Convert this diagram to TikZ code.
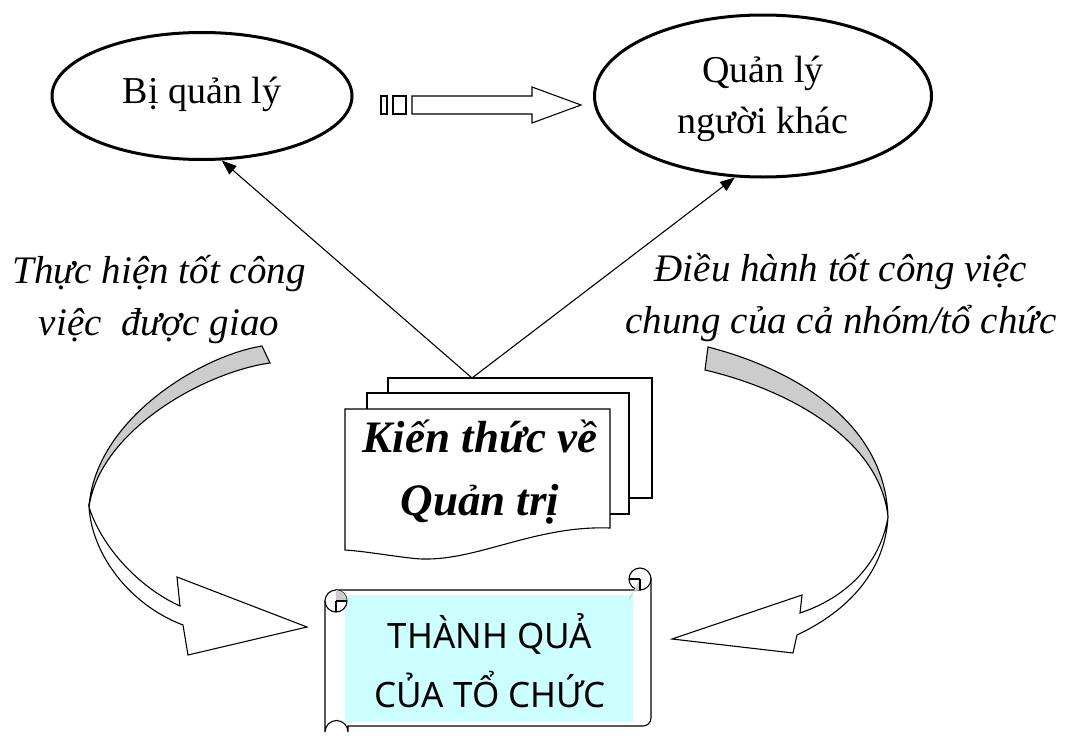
\documentclass[tikz,border=0pt]{standalone}
\usepackage{fontspec}
\setmainfont{Liberation Serif}
\newfontfamily\scrollfont{Noto Sans}
\usetikzlibrary{shapes.geometric,arrows.meta}
\definecolor{scrollcyan}{RGB}{204,255,255}
\begin{document}
\begin{tikzpicture}[x=1pt,y=-1pt,line join=miter]
\useasboundingbox (0,0) rectangle (1077,744);
\tikzset{
  oval/.style={ellipse,draw,line width=3pt,align=center,inner sep=0pt,font=\fontsize{38}{51}\selectfont},
  conn/.style={line width=1.1pt,-{Triangle[length=15pt,width=11pt]}},
  outl/.style={draw,line width=1.1pt},
  lbl/.style={align=center,inner sep=0pt,anchor=base,font=\fontsize{39}{52}\selectfont\itshape},
  doctext/.style={align=center,inner sep=0pt,anchor=base,font=\fontsize{45}{63}\selectfont\bfseries\itshape},
  scrolltext/.style={align=center,inner sep=0pt,anchor=base,font=\fontsize{35}{59}\selectfont\scrollfont},
  band/.style={draw,line width=1.1pt,fill=gray!40},
  bandwhite/.style={draw,line width=1.1pt,fill=white},
}
% ellipses
\node[oval,minimum width=300pt,minimum height=127pt,text depth=12pt] (e1) at (202,96) {Bị quản lý};
\node[oval,minimum width=337pt,minimum height=162pt,text depth=3pt] (e2) at (763,96) {Quản lý\\người khác};
% block arrow between ellipses
\draw[outl] (381,96) rectangle (387,114);
\draw[outl] (393,96) rectangle (406,114);
\draw[outl] (412,96) -- (532,96) -- (532,87) -- (581,105) -- (532,123) -- (532,114) -- (412,114) -- cycle;
% connectors from documents to ellipses
\coordinate (apex) at (472,378);
\draw[conn] (apex) -- (e1.-73);
\draw[conn] (apex) -- (e2.-109);
% documents
\draw[outl,fill=white] (388,378) rectangle (652,498);
\draw[outl,fill=white] (367,393) rectangle (629,514);
\draw[outl,fill=white] (345,409) -- (610,409) -- (610,528)
   .. controls (530,525) and (470,566) .. (410,558)
   .. controls (385,555) and (362,551) .. (345,550) -- cycle;
\node[doctext] (kt) at (480,515) {Kiến thức về\\Quản trị};
% labels
\node[lbl] (l1) at (159,335) {Thực hiện tốt công\\việc\ \ được giao};
\node[lbl] (l2) at (841,333) {Điều hành tốt công việc\\chung của cả nhóm/tổ chức};
% left curved arrow
\path[band] (262,346) .. controls (200,356) and (95,420) .. (89,507)
   .. controls (100,430) and (205,372) .. (270,363) -- cycle;
\path[bandwhite] (89,507) .. controls (102,548) and (140,588) .. (180,606)
   -- (177,577) -- (307,627) -- (188,655) -- (183,625)
   .. controls (130,605) and (92,555) .. (89,507) -- cycle;
% right curved arrow
\path[band] (708,347) .. controls (790,368) and (885,420) .. (888,517)
   .. controls (880,440) and (790,390) .. (705,370) -- cycle;
\path[bandwhite] (888,517) .. controls (880,565) and (845,598) .. (800,613)
   -- (802,595) -- (672,639) -- (793,653) -- (797,635)
   .. controls (850,610) and (885,570) .. (888,517) -- cycle;
% scroll
\draw[outl,fill=white] (325,601) -- (325,732) arc[start angle=180,end angle=360,radius=11.5] -- (348,726)
   -- (643,726) arc[start angle=90,end angle=0,radius=8] -- (651,579) -- (640,590) -- (336,590) -- cycle;
\fill[scrollcyan] (345,595) rectangle (633,722);
\draw[outl,fill=white] (640,579) circle[radius=11];
\fill[gray!40] (640,579) -- (640,590) arc[start angle=270,end angle=180,radius=11] -- cycle;
\draw[outl] (640,579) -- (640,590);
\draw[outl] (629,579) -- (640,579);
\draw[outl,fill=white] (336,601) circle[radius=11];
\fill[gray!40] (336,601) -- (347,601) arc[start angle=0,end angle=-90,radius=11] -- cycle;
\draw[outl] (336,601) -- (347,601);
\draw[outl] (336,601) -- (336,612);
\node[scrolltext] (tq) at (490,707) {THÀNH QUẢ\\CỦA TỔ CHỨC};
\end{tikzpicture}
\end{document}
